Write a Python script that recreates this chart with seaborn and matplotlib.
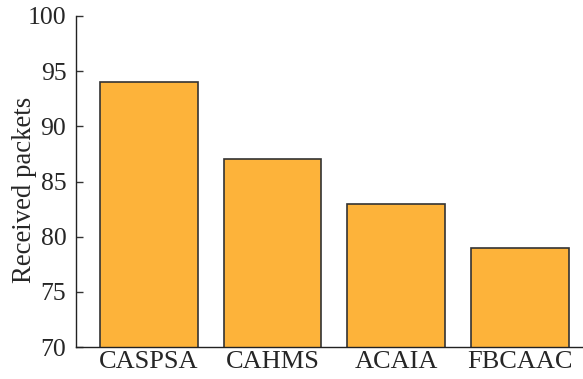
import matplotlib
matplotlib.use("Agg")
import matplotlib.pyplot as plt
import seaborn as sns
import pandas as pd

methods = ["CASPSA", "CAHMS", "ACAIA", "FBCAAC"]
received = [94, 87, 83, 79]
y_ticks = [70, 75, 80, 85, 90, 95, 100]

sns.set_style("ticks")
plt.rcParams['font.family'] = ['Liberation Serif', 'DejaVu Serif']

df = pd.DataFrame({"method": methods, "received": received})

fig = plt.figure(figsize=(5.83, 3.79), dpi=100)
ax = fig.add_axes([0.1304, 0.0844, 0.8696, 0.8734])
sns.barplot(data=df, x="method", y="received", color="#FDB33A", saturation=1,
            edgecolor="#333333", linewidth=1.2, width=0.79, ax=ax)

ax.set_ylim(70, 100)
ax.set_xlim(-0.59, 3.51)
ax.set_yticks(y_ticks)
ax.set_xlabel("")
ax.set_ylabel("Received packets", fontsize=19.3)
ax.yaxis.set_label_coords(-0.076, 0.474)
ax.tick_params(axis="both", direction="in", color="#333333")
ax.tick_params(axis="y", length=5, width=1, pad=7, labelsize=18.5)
ax.tick_params(axis="x", length=6, width=1, pad=3, labelsize=19)
for s in ["top", "right"]:
    ax.spines[s].set_visible(False)
for s in ["left", "bottom"]:
    ax.spines[s].set_linewidth(1.0)
    ax.spines[s].set_color("#222222")

fig.savefig("out.png", dpi=100)
